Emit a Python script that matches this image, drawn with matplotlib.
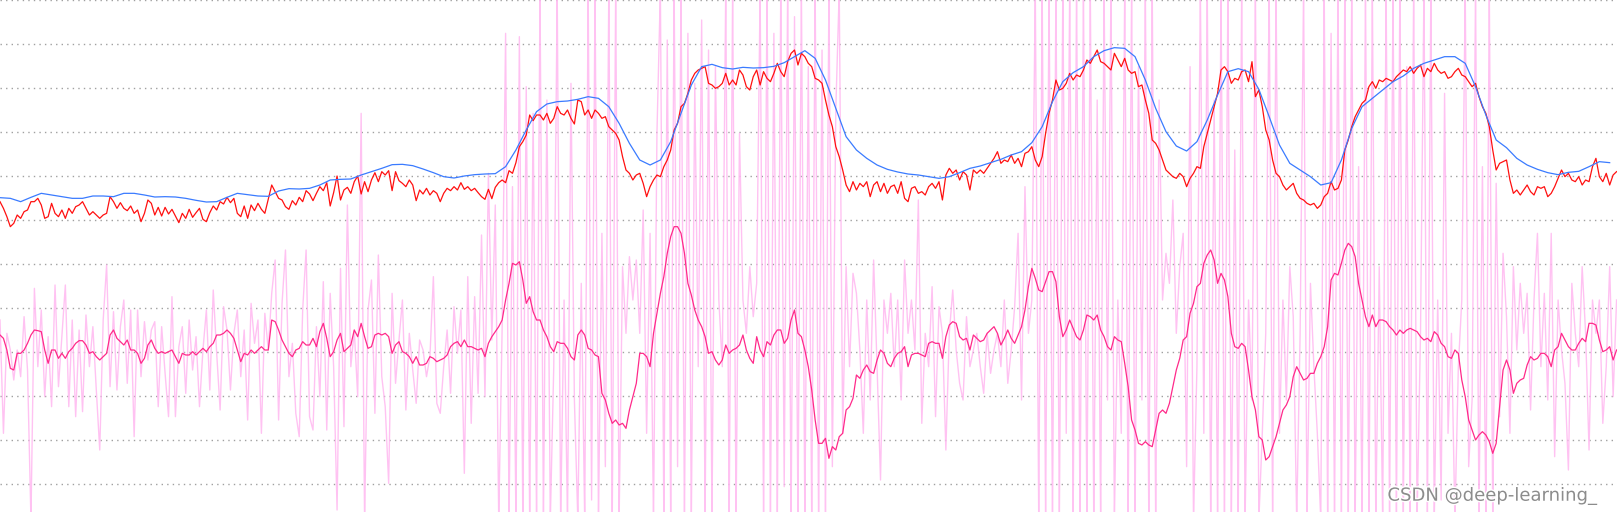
import numpy as np
import matplotlib
matplotlib.use("Agg")
import matplotlib.pyplot as plt
import matplotlib.patheffects as pe

# ---- data (vertical unit = 1/3 px from top, sample step ~3.44 px) ----
red_a = [605, 625, 650, 680, 670, 645, 655, 635, 630, 605,
         605, 595, 615, 655, 650, 610, 640, 650, 630, 655,
         625, 640, 620, 615, 605, 625, 645, 635, 645, 655,
         645, 640, 590, 605, 625, 608, 625, 632, 618, 640,
         630, 665, 640, 600, 610, 645, 622, 648, 622, 642,
         628, 648, 668, 640, 655, 628, 652, 638, 625, 658,
         665, 638, 618, 630, 605, 612, 592, 608, 595, 640,
         650, 618, 655, 615, 632, 610, 628, 640, 598, 555,
         575, 595, 600, 620, 628, 602, 615, 592, 605, 572,
         582, 602, 580, 560, 572, 548, 618, 578, 528, 600,
         570, 562, 580, 545, 528, 582, 545, 575, 540, 518,
         545, 515, 525, 512, 572, 515, 542, 550, 560, 540,
         555, 602, 570, 582, 565, 585, 572, 580, 605, 580,
         565, 572, 560, 570, 548, 568, 560, 572, 565, 578,
         590, 598, 568, 596, 562, 548, 540, 548, 512, 520,
         488, 440, 425, 405, 345, 362, 345]
red_b = [345, 360, 340, 370, 355, 320, 340, 345, 330, 355,
         372, 300, 305, 345, 330, 355, 330, 340, 355, 350,
         380, 390, 400, 420, 470, 510, 520, 540, 525, 520,
         550, 590, 560, 540, 525, 530, 500, 480, 450, 390,
         370, 320, 310, 280, 240, 220, 210, 205, 200, 250,
         255, 265, 260, 250, 220, 255, 240, 255, 210, 225,
         260, 270, 230, 210, 255, 215, 235, 245, 220, 190,
         215, 230, 185, 160, 150, 195, 160, 170, 190, 200,
         235, 240, 250, 300, 345, 380, 440, 470, 510, 555,
         575, 545, 570, 550, 560, 545, 590, 555, 545, 575,
         550, 580, 560, 555, 580, 545, 595, 605, 565, 560,
         580, 575, 585, 560, 550, 565, 545, 600, 525, 505,
         520, 510, 540, 515, 525, 570, 510, 520, 510, 520,
         505, 490, 475, 455, 490, 480, 485, 465, 490, 475,
         500, 460, 455, 440, 480, 500, 470, 400, 340, 300,
         240, 270, 265, 250, 220, 240, 225]
red_c = [230, 210, 180, 190, 170, 150, 185, 190, 200, 210,
         160, 180, 200, 175, 210, 220, 215, 260, 255, 300,
         340, 420, 430, 450, 480, 510, 520, 530, 535, 520,
         530, 560, 535, 520, 500, 505, 440, 400, 360, 320,
         280, 210, 200, 215, 250, 235, 240, 215, 210, 245,
         185, 290, 270, 320, 390, 420, 480, 520, 530, 555,
         570, 560, 550, 580, 595, 600, 610, 615, 610, 625,
         615, 590, 580, 545, 570, 565, 540, 450, 420, 380,
         350, 330, 310, 300, 260, 245, 265, 240, 245, 235,
         240, 245, 230, 220, 210, 215, 200, 220, 205, 195,
         230, 205, 215, 190, 210, 220, 215, 235, 230, 215,
         205, 225, 230, 245, 260, 250, 290, 320, 340, 380,
         450, 510, 490, 485, 480, 540, 580, 570, 585, 570,
         555, 575, 585, 560, 565, 560, 590, 580, 560, 535,
         510, 530, 520, 540, 545, 530, 555, 540, 545, 500,
         475, 530, 545, 520, 555, 525, 515]

# blue: every 3rd sample
blue_a = [593, 595, 605, 592, 580, 585, 590, 595, 595, 588,
          588, 590, 580, 580, 585, 591, 590, 591, 595, 601,
          606, 605, 592, 580, 584, 588, 589, 573, 566, 567,
          565, 555, 540, 538, 537, 525, 515, 505, 494, 493,
          497, 507, 518, 530, 534, 528, 524, 522, 521, 500,
          450, 390, 335]
blue_b = [312, 305, 303, 298, 290, 295, 320, 370, 430, 480,
          495, 480, 425, 340, 255, 200, 193, 203, 207, 202,
          204, 203, 199, 188, 170, 152, 175, 240, 325, 410,
          450, 475, 495, 508, 516, 522, 525, 530, 535, 530,
          518, 505, 498, 488, 478, 465, 455, 428, 380, 305,
          245, 218]
blue_c = [200, 170, 152, 143, 145, 170, 240, 325, 395, 438,
          453, 425, 360, 285, 215, 206, 215, 268, 350, 435,
          490, 510, 530, 555, 548, 480, 385, 320, 295, 270,
          245, 228, 205, 190, 180, 170, 170, 190, 260, 345,
          420, 443, 475, 495, 508, 518, 524, 517, 514, 500,
          485, 488]

pink_a = [1005, 1015, 1050, 1105, 1110, 1060, 1060, 1050, 1030, 1005,
          990, 992, 995, 1050, 1090, 1050, 1050, 1075, 1060, 1075,
          1055, 1045, 1030, 1022, 1022, 1035, 1060, 1055, 1070, 1080,
          1070, 1060, 1005, 990, 1015, 1025, 1035, 1020, 1050, 1050,
          1060, 1090, 1075, 1035, 1020, 1045, 1060, 1055, 1060, 1055,
          1050, 1070, 1090, 1060, 1065, 1065, 1055, 1065, 1055, 1045,
          1055, 1040, 1030, 1005, 1005, 1000, 990, 1000, 1015, 1050,
          1085, 1060, 1065, 1050, 1060, 1050, 1040, 1050, 1050, 960,
          965, 990, 1020, 1040, 1060, 1070, 1050, 1045, 1025, 1035,
          1035, 1015, 1040, 995, 970, 1015, 1070, 1055, 1020, 1000,
          1055, 1045, 1035, 990, 1010, 970, 1010, 1045, 1040, 1005,
          1000, 1005, 1000, 1010, 1060, 1035, 1025, 1055, 1060, 1070,
          1090, 1070, 1095, 1095, 1090, 1070, 1075, 1085, 1080, 1075,
          1065, 1040, 1030, 1025, 1040, 1020, 1040, 1040, 1045, 1050,
          1045, 1070, 1030, 1010, 995, 980, 960, 900, 850, 790,
          795, 785, 840, 910, 890, 935, 960]
pink_b = [960, 990, 1010, 1040, 1055, 1025, 1030, 1030, 1045, 1070,
          1080, 1005, 990, 1005, 1045, 1050, 1065, 1070, 1180, 1200,
          1240, 1270, 1260, 1275, 1270, 1285, 1230, 1190, 1150, 1060,
          1060, 1070, 1100, 1000, 940, 880, 830, 760, 710, 680,
          680, 700, 760, 850, 885, 930, 960, 980, 1010, 1060,
          1055, 1080, 1095, 1080, 1035, 1060, 1050, 1045, 1035, 1005,
          1050, 1075, 1090, 1010, 1050, 1070, 1025, 1035, 1005, 990,
          990, 1030, 1015, 960, 930, 1000, 1010, 1050, 1100, 1170,
          1260, 1330, 1330, 1315, 1375, 1340, 1350, 1310, 1300, 1230,
          1220, 1195, 1125, 1135, 1110, 1095, 1115, 1120, 1080, 1050,
          1060, 1090, 1100, 1075, 1060, 1055, 1040, 1100, 1065, 1060,
          1060, 1065, 1070, 1030, 1025, 1030, 1030, 1075, 1010, 975,
          965, 970, 1010, 1020, 1015, 1050, 1005, 1015, 1025, 1020,
          1000, 990, 980, 1000, 1035, 1015, 990, 1015, 1030, 1005,
          980, 930, 860, 805, 835, 870, 875, 845, 815, 815,
          845, 950, 1010, 990, 960, 985, 1010]
pink_c = [1020, 990, 945, 950, 960, 945, 990, 1010, 1040, 1050,
          1010, 1020, 1025, 1090, 1160, 1260, 1290, 1330, 1335, 1325,
          1335, 1340, 1290, 1240, 1230, 1240, 1210, 1160, 1110, 1075,
          1020, 1010, 940, 910, 860, 850, 790, 765, 750, 780,
          850, 820, 840, 890, 1000, 1040, 1045, 1030, 1040, 1110,
          1190, 1230, 1310, 1320, 1380, 1370, 1340, 1310, 1270, 1230,
          1215, 1190, 1130, 1100, 1120, 1140, 1135, 1120, 1120, 1090,
          1070, 1040, 980, 840, 820, 825, 790, 750, 730, 740,
          770, 850, 900, 950, 980, 945, 980, 960, 960, 965,
          980, 990, 1005, 990, 1000, 990, 985, 990, 995, 1010,
          1020, 1015, 1025, 995, 1005, 1030, 1040, 1070, 1075, 1050,
          1060, 1140, 1190, 1260, 1290, 1320, 1305, 1295, 1305, 1325,
          1360, 1330, 1220, 1110, 1080, 1110, 1180, 1150, 1140, 1135,
          1095, 1070, 1080, 1075, 1060, 1060, 1070, 1100, 1050, 1040,
          1000, 1020, 1040, 1050, 1050, 1030, 1015, 1025, 970, 970,
          975, 1020, 1055, 1050, 1040, 1080, 1050]

noise_a = [960, 1300, 1000, 1050, 1140, 1050, 1130, 950, 1110, 1560,
           865, 1100, 930, 1190, 1010, 1220, 855, 1160, 1005, 855,
           1220, 960, 1250, 990, 1235, 945, 1100, 980, 1170, 1350,
           960, 795, 1160, 935, 1170, 980, 900, 1150, 930, 1310,
           930, 1130, 965, 1080, 990, 965, 1220, 980, 1120, 1250,
           890, 1250, 1040, 980, 1180, 960, 1110, 1010, 1220, 1050,
           930, 1170, 870, 1060, 1230, 920, 990, 1170, 1000, 930,
           1130, 990, 1260, 910, 1030, 960, 1300, 940, 1050, 880,
           780, 1260, 910, 750, 1130, 1030, 1240, 1310, 930, 750,
           1250, 1290, 980, 1190, 845, 1290, 880, 1100, 1530, 805,
           1280, 615, 1100, 990, 1190, 340, 1560, 930, 840, 1240,
           765, 1130, 1220, 1450, 880, 1150, 1020, 900, 1230, 1000,
           1110, 1210, 1020, 1050, 1130, 1070, 830, 1210, 1240, 1100,
           990, 1180, 920, 1060, 930, 1420, 830, 1270, 890, 1180,
           705, 1190, 520, 1020, 615, 1560, 980, 100, 1560, 560,
           1560, 110, 1560, 260, 1560, 340, 1560]
noise_b = [-30, 1560, 300, 1560, 1100, -30, 1560, 900, 1560, 250,
           1200, 1560, 850, 1560, -30, 1500, -30, 1560, 700, 1400,
           -30, 1560, -30, 1560, 800, 1000, 770, 900, 780, 1000,
           630, 1300, 700, 1560, 400, -30, 1560, 120, 1560, -30,
           1400, -30, 1560, 100, 1560, 250, 1100, 60, 1560, 150,
           1560, 200, 900, 1100, -30, 1560, -30, 1560, 400, 900,
           1000, 800, 950, 850, -30, 1560, -30, 1560, 100, 1560,
           -30, 1460, -30, 1560, 50, 1560, -30, 1560, 200, 1560,
           -30, 1560, 150, 1560, -30, 1400, 330, -30, 1300, 800,
           1100, 820, 880, 1050, 1300, 900, 1200, 780, 1100, 1440,
           900, 1000, 880, 1100, 900, 1200, 780, 1000, 900, 1050,
           600, 1270, 1000, 1100, 860, 1250, 920, 1000, 1350, 1000,
           870, 1050, 1150, 1200, 950, 1100, 1050, 1000, 1100, 1180,
           1000, 1120, 1050, 1000, 1100, 900, 1150, 1050, 920, 700,
           1200, 560, 1000, 900, -30, 1560, -30, 1560, -30, 1560,
           -30, 1560, -30, 1300, -30, 1560, -30]
noise_c = [1560, -30, 1560, -30, 1560, 300, 1560, -30, 1200, -30,
           1560, 900, 1300, -30, 1560, -30, 1560, 200, 1200, -30,
           1560, -30, 1560, 300, 900, 760, 850, 600, 1000, 800,
           700, 1400, 200, 1560, 1100, -30, 1300, -30, 1560, 300,
           1560, -30, 1560, -30, 1560, 450, 1560, -30, 1560, 900,
           1200, -30, 1560, 1300, 1000, -30, 1560, -30, 1300, 900,
           1200, 800, 950, 1560, 1000, -30, 1560, 850, 1100, 1300,
           1560, -30, 1560, 100, 1560, -30, 1560, -30, 1560, -30,
           1560, 500, 1560, -30, 1560, -30, 1560, 800, 1560, -30,
           1560, -30, 1560, -30, 1560, 200, 1560, -30, 1560, 1000,
           -30, 1560, -30, 1560, 900, 1500, 280, 1300, 1000, 1560,
           1100, 900, -30, 1400, 1200, -30, 1560, 500, 1560, -30,
           1560, 550, 1250, 760, 950, 1300, 800, 1050, 850, 1000,
           880, 1230, 900, 700, 1100, 880, 1200, 700, 1370, 900,
           1050, 1150, 1410, 850, 1000, 1100, 800, 1000, 1350, 900,
           1000, 900, 1270, 1100, 800, 1190, 900]

grid_levels = list(range(0, 1453, 132))
watermark = "CSDN @deep-learning_"

red = np.array(red_a + red_b + red_c, dtype=float)
blue = np.array(blue_a + blue_b + blue_c, dtype=float)
pink = np.array(pink_a + pink_b + pink_c, dtype=float)
noise = np.array(noise_a + noise_b + noise_c, dtype=float)

t_red = np.arange(len(red))
t_blue = np.arange(len(blue)) * 3
t_pink = np.arange(len(pink))
t_noise = np.arange(len(noise))

fig = plt.figure(figsize=(16.17, 5.12), dpi=100)
ax = fig.add_axes([0, 0, 1, 1])
ax.set_xlim(0, 1617 * 157 / 540)
ax.set_ylim(1536, 0)
ax.axis("off")

for g in grid_levels:
    ax.axhline(g, color="#a0a0a0", lw=1.0, ls=(0, (1, 3)), zorder=0)

ax.plot(t_noise, noise, color="#ffb8f0", lw=1.0, alpha=0.85, zorder=1)
ax.plot(t_pink, pink, color="#ff2a8a", lw=0.9, zorder=2)
ax.plot(t_red, red, color="#ff1010", lw=0.9, zorder=3)
ax.plot(t_blue, blue, color="#3a7bff", lw=0.9, zorder=4)

fig.text(0.9875, 0.022, watermark, ha="right", va="baseline", fontsize=13,
         color="#8c8c8c", family="DejaVu Sans",
         path_effects=[pe.withStroke(linewidth=2, foreground="white")])

fig.savefig("out.png", dpi=100)
